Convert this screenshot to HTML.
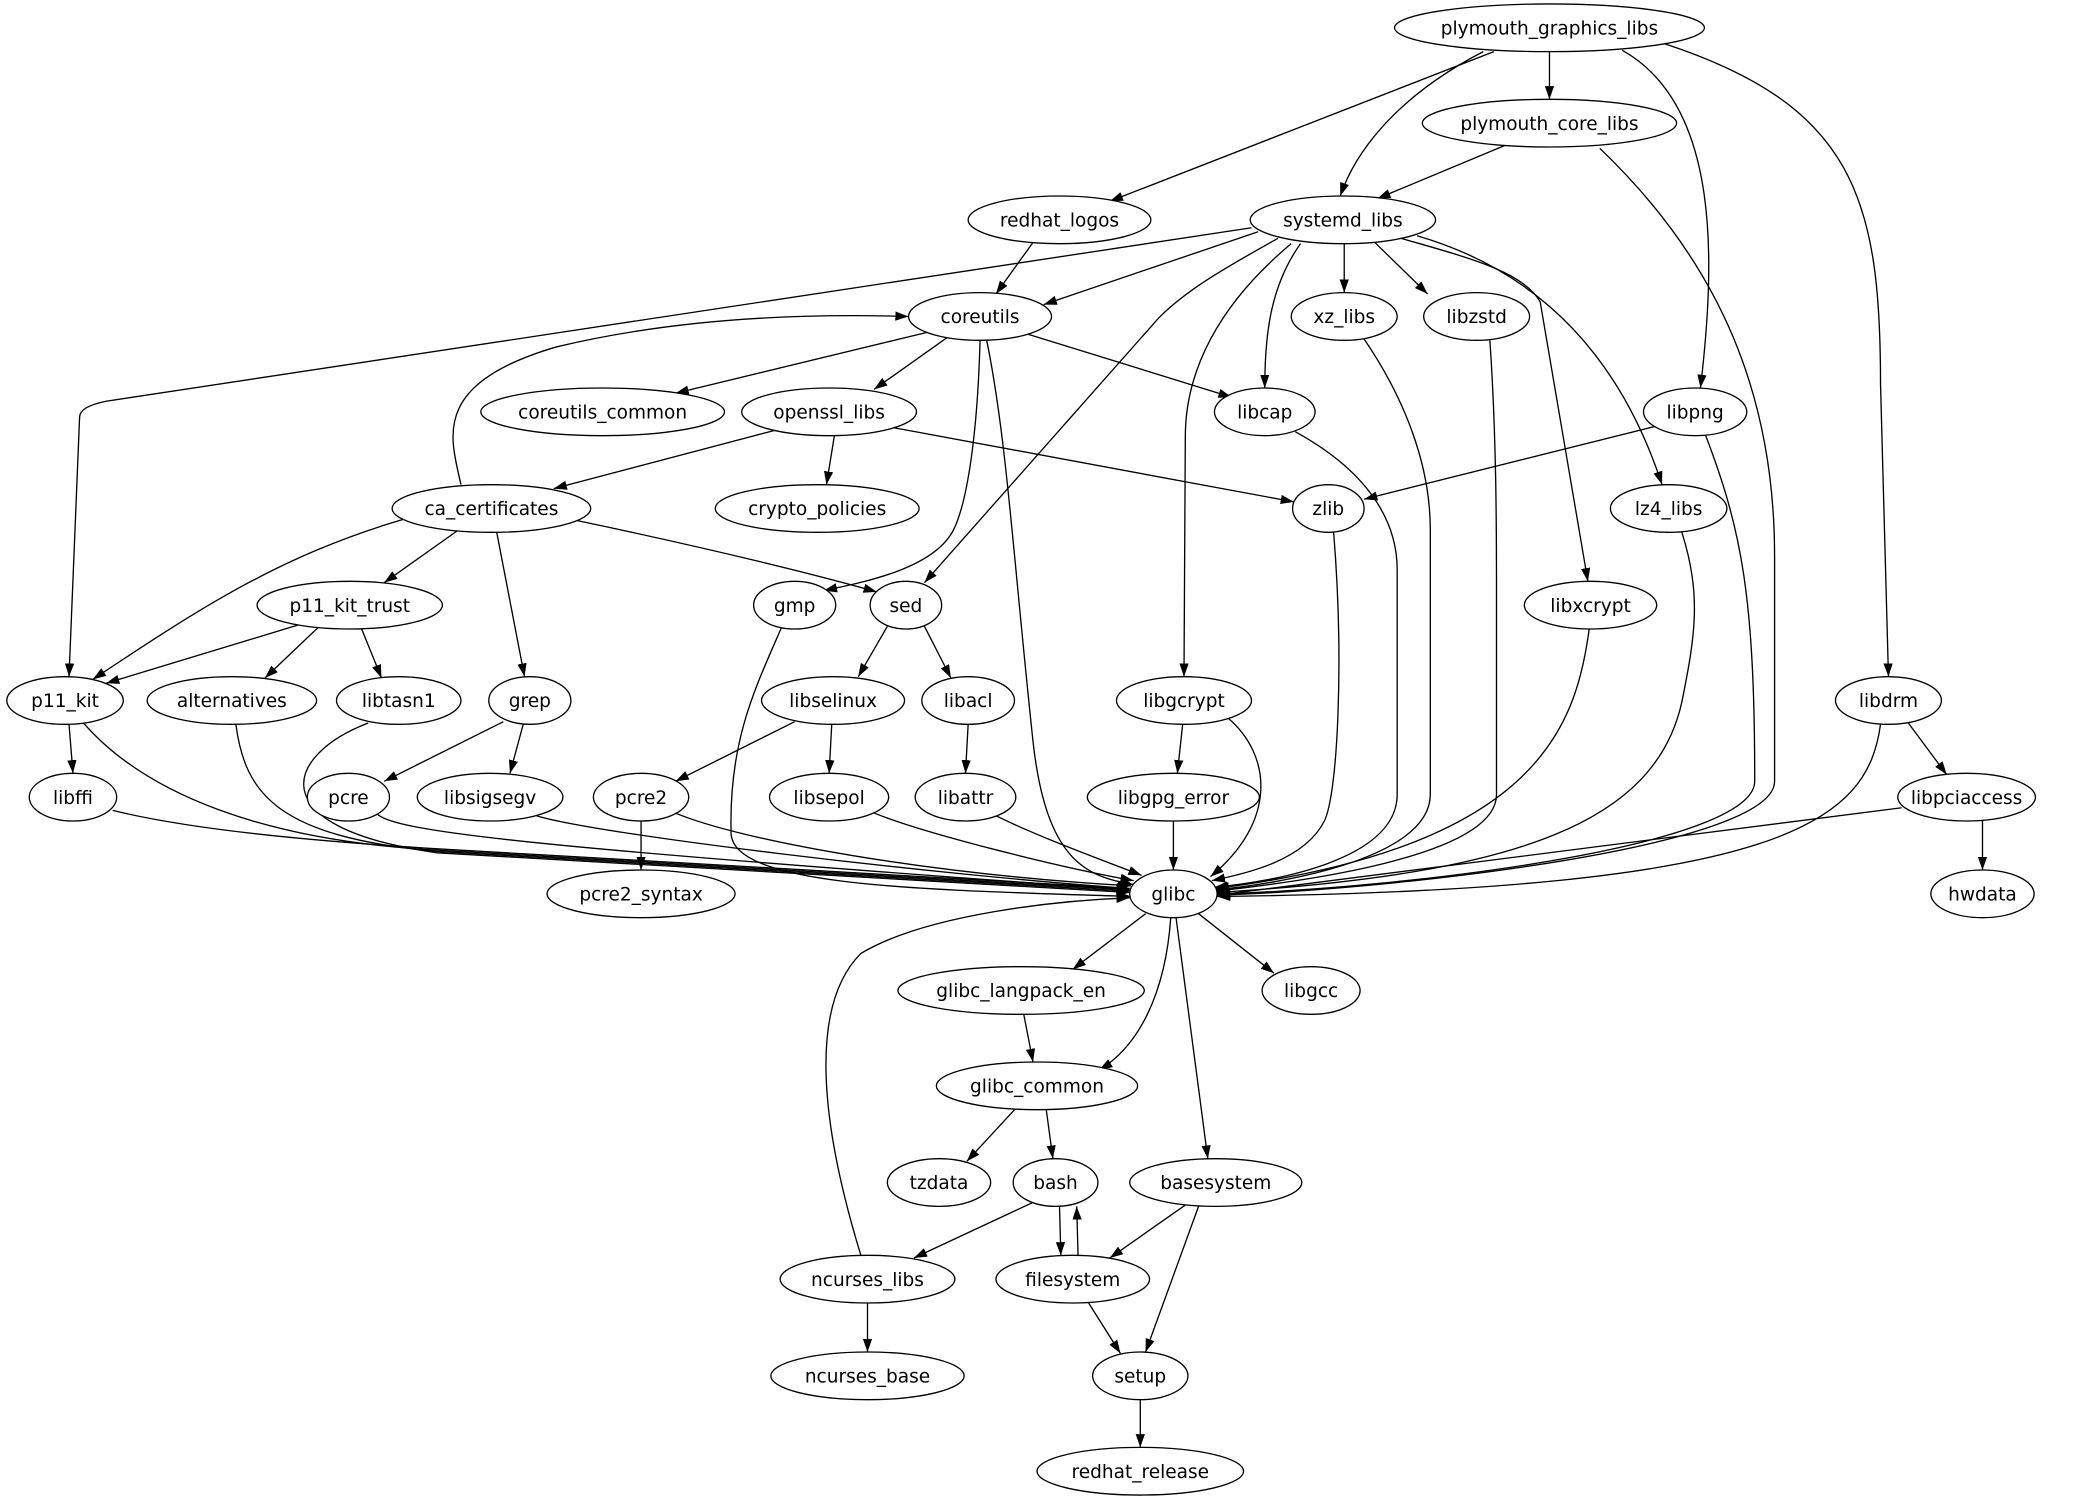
<!DOCTYPE html>
<html><head><meta charset="utf-8"><style>html,body{margin:0;padding:0;background:#fff}svg{display:block}</style></head><body>
<svg width="2074" height="1499" viewBox="0 0 1566 1132" xmlns="http://www.w3.org/2000/svg">
<defs><marker id="a" markerUnits="userSpaceOnUse" markerWidth="10" markerHeight="8" refX="10" refY="3.5" orient="auto"><path d="M0,0 L10,3.5 L0,7 Z" fill="#000"/></marker></defs>
<rect width="1566" height="1132" fill="#fff"/>
<g fill="none" stroke="#000" stroke-width="1" marker-end="url(#a)">
<path d="M1128,39 L838,152"/>
<path d="M1120,39 C1060,70 1025,110 1012,148"/>
<path d="M1170,39 L1170,75"/>
<path d="M1225,38 C1300,80 1295,200 1284,293"/>
<path d="M1257,33 C1400,80 1420,150 1420,290 L1426,511"/>
<path d="M1136,110 L1040,150"/>
<path d="M1208,112 C1300,200 1340,300 1340,420 L1340,590 C1340,640 1050,672 919,676"/>
<path d="M780,183 L752,222"/>
<path d="M950,175 L788,230"/>
<path d="M945,172 L80,303 Q60,307 60,315 L52,511"/>
<path d="M965,180 C920,205 895,220 875,240 L698,440"/>
<path d="M975,184 C920,230 895,280 895,330 L894,511"/>
<path d="M982,184 C960,215 955,250 955,293"/>
<path d="M1015,184 L1015,221"/>
<path d="M1038,183 L1078,222"/>
<path d="M1058,180 C1110,195 1150,205 1163,228 L1199,439"/>
<path d="M1070,178 C1180,210 1230,290 1255,366"/>
<path d="M700,251 L510,297"/>
<path d="M715,255 L660,294"/>
<path d="M775,252 L930,300"/>
<path d="M740,257 C738,330 730,380 720,400 C705,430 650,440 622,446"/>
<path d="M745,257 C760,330 765,420 780,560 C790,650 820,662 856,668"/>
<path d="M348,366 C340,330 325,290 420,262 C520,238 620,237 686,239"/>
<path d="M585,325 L418,369"/>
<path d="M630,329 L624,366"/>
<path d="M675,323 L977,379"/>
<path d="M1250,322 L1030,377"/>
<path d="M305,392 C210,420 150,460 70,513"/>
<path d="M345,401 L290,440"/>
<path d="M375,402 L396,511"/>
<path d="M435,393 C540,415 620,435 662,447"/>
<path d="M225,472 L80,516"/>
<path d="M240,474 L200,512"/>
<path d="M273,475 L288,512"/>
<path d="M670,473 L648,511"/>
<path d="M698,473 L718,512"/>
<path d="M380,545 L290,590"/>
<path d="M395,547 L385,584"/>
<path d="M600,545 L510,590"/>
<path d="M628,547 L626,584"/>
<path d="M731,547 L729,584"/>
<path d="M893,547 L889,584"/>
<path d="M1441,546 L1470,585"/>
<path d="M1497,620 L1497,657"/>
<path d="M484,620 L484,657"/>
<path d="M886,620 L886,657"/>
<path d="M52,547 L55,584"/>
<path d="M63,546 C110,600 200,635 330,642 L853,672"/>
<path d="M178,547 C185,600 210,632 330,643 L853,673"/>
<path d="M278,546 C215,570 195,625 330,644 L853,674"/>
<path d="M85,612 C150,628 250,636 330,641 L853,671"/>
<path d="M285,615 C300,628 400,640 853,672"/>
<path d="M405,616 C450,630 700,660 853,671"/>
<path d="M510,614 C560,635 700,660 854,669"/>
<path d="M660,614 C700,630 800,655 856,665"/>
<path d="M752,616 C780,630 820,645 862,661"/>
<path d="M590,474 C570,520 550,560 552,630 C555,670 700,672 854,677"/>
<path d="M927,542 C960,570 965,620 914,662"/>
<path d="M978,326 C1040,360 1055,400 1055,430 L1055,600 C1055,650 960,666 917,670"/>
<path d="M1030,256 C1060,300 1080,350 1080,400 L1080,600 C1080,650 960,668 918,672"/>
<path d="M1125,257 C1130,330 1130,400 1130,450 L1130,600 C1130,650 960,668 918,673"/>
<path d="M1007,402 C1015,500 1010,600 1000,620 C985,650 940,660 915,665"/>
<path d="M1270,402 C1285,450 1280,480 1270,530 C1250,620 1150,660 918,674"/>
<path d="M1200,475 C1190,550 1160,640 918,671"/>
<path d="M1288,329 C1315,400 1325,450 1325,590 C1325,640 1050,672 918,675"/>
<path d="M1420,547 C1410,620 1350,672 919,677"/>
<path d="M1436,610 L919,676"/>
<path d="M865,690 L810,732"/>
<path d="M905,690 L962,735"/>
<path d="M884,693 C880,750 860,790 830,808"/>
<path d="M888,693 L912,875"/>
<path d="M650,948 C620,850 610,760 650,720 C700,690 800,680 853,678"/>
<path d="M773,766 L780,802"/>
<path d="M767,837 L730,877"/>
<path d="M790,838 L795,875"/>
<path d="M780,908 L690,950"/>
<path d="M800,911 L801,948"/>
<path d="M814,948 L813,911"/>
<path d="M895,910 L838,950"/>
<path d="M905,911 L865,1021"/>
<path d="M822,984 L846,1022"/>
<path d="M655,984 L655,1021"/>
<path d="M861,1057 L861,1093"/>
</g>
<g fill="#fff" stroke="#000" stroke-width="1">
<ellipse cx="1170" cy="21" rx="117" ry="18"/><ellipse cx="1170" cy="93" rx="96" ry="18"/>
<ellipse cx="800" cy="166" rx="69" ry="18"/><ellipse cx="1014" cy="166" rx="70" ry="18"/>
<ellipse cx="740" cy="239" rx="54" ry="18"/><ellipse cx="1015" cy="239" rx="40" ry="18"/>
<ellipse cx="1115" cy="239" rx="40" ry="18"/><ellipse cx="455" cy="311" rx="92" ry="18"/>
<ellipse cx="626" cy="311" rx="66" ry="18"/><ellipse cx="955" cy="311" rx="38" ry="18"/>
<ellipse cx="1280" cy="311" rx="39" ry="18"/><ellipse cx="371" cy="384" rx="75" ry="18"/>
<ellipse cx="617" cy="384" rx="77" ry="18"/><ellipse cx="1003" cy="384" rx="27" ry="18"/>
<ellipse cx="1260" cy="384" rx="44" ry="18"/><ellipse cx="264" cy="457" rx="70" ry="18"/>
<ellipse cx="600" cy="457" rx="31" ry="18"/><ellipse cx="684" cy="457" rx="27" ry="18"/>
<ellipse cx="1201" cy="457" rx="50" ry="18"/><ellipse cx="49" cy="529" rx="44" ry="18"/>
<ellipse cx="175" cy="529" rx="64" ry="18"/><ellipse cx="301" cy="529" rx="47" ry="18"/>
<ellipse cx="400" cy="529" rx="31" ry="18"/><ellipse cx="629" cy="529" rx="54" ry="18"/>
<ellipse cx="731" cy="529" rx="35" ry="18"/><ellipse cx="894" cy="529" rx="51" ry="18"/>
<ellipse cx="1426" cy="529" rx="40" ry="18"/><ellipse cx="55" cy="602" rx="33" ry="18"/>
<ellipse cx="263" cy="602" rx="31" ry="18"/><ellipse cx="370" cy="602" rx="55" ry="18"/>
<ellipse cx="484" cy="602" rx="36" ry="18"/><ellipse cx="626" cy="602" rx="45" ry="18"/>
<ellipse cx="729" cy="602" rx="38" ry="18"/><ellipse cx="886" cy="602" rx="65" ry="18"/>
<ellipse cx="1485" cy="602" rx="52" ry="18"/><ellipse cx="886" cy="675" rx="33" ry="18"/>
<ellipse cx="484" cy="675" rx="71" ry="18"/><ellipse cx="1497" cy="675" rx="39" ry="18"/>
<ellipse cx="771" cy="748" rx="93" ry="18"/><ellipse cx="990" cy="748" rx="37" ry="18"/>
<ellipse cx="783" cy="820" rx="76" ry="18"/><ellipse cx="709" cy="893" rx="39" ry="18"/>
<ellipse cx="797" cy="893" rx="32" ry="18"/><ellipse cx="918" cy="893" rx="65" ry="18"/>
<ellipse cx="655" cy="966" rx="66" ry="18"/><ellipse cx="810" cy="966" rx="58" ry="18"/>
<ellipse cx="655" cy="1039" rx="73" ry="18"/><ellipse cx="861" cy="1039" rx="36" ry="18"/>
<ellipse cx="861" cy="1111" rx="78" ry="18"/>
</g>
<g font-family="'DejaVu Sans','Liberation Sans',sans-serif" font-size="14" text-anchor="middle" fill="#000">
<text x="1170" y="26">plymouth_graphics_libs</text><text x="1170" y="98">plymouth_core_libs</text>
<text x="800" y="171">redhat_logos</text><text x="1014" y="171">systemd_libs</text>
<text x="740" y="244">coreutils</text><text x="1015" y="244">xz_libs</text>
<text x="1115" y="244">libzstd</text><text x="455" y="316">coreutils_common</text>
<text x="626" y="316">openssl_libs</text><text x="955" y="316">libcap</text>
<text x="1280" y="316">libpng</text><text x="371" y="389">ca_certificates</text>
<text x="617" y="389">crypto_policies</text><text x="1003" y="389">zlib</text>
<text x="1260" y="389">lz4_libs</text><text x="264" y="462">p11_kit_trust</text>
<text x="600" y="462">gmp</text><text x="684" y="462">sed</text>
<text x="1201" y="462">libxcrypt</text><text x="49" y="534">p11_kit</text>
<text x="175" y="534">alternatives</text><text x="301" y="534">libtasn1</text>
<text x="400" y="534">grep</text><text x="629" y="534">libselinux</text>
<text x="731" y="534">libacl</text><text x="894" y="534">libgcrypt</text>
<text x="1426" y="534">libdrm</text><text x="55" y="607">libffi</text>
<text x="263" y="607">pcre</text><text x="370" y="607">libsigsegv</text>
<text x="484" y="607">pcre2</text><text x="626" y="607">libsepol</text>
<text x="729" y="607">libattr</text><text x="886" y="607">libgpg_error</text>
<text x="1485" y="607">libpciaccess</text><text x="886" y="680">glibc</text>
<text x="484" y="680">pcre2_syntax</text><text x="1497" y="680">hwdata</text>
<text x="771" y="753">glibc_langpack_en</text><text x="990" y="753">libgcc</text>
<text x="783" y="825">glibc_common</text><text x="709" y="898">tzdata</text>
<text x="797" y="898">bash</text><text x="918" y="898">basesystem</text>
<text x="655" y="971">ncurses_libs</text><text x="810" y="971">filesystem</text>
<text x="655" y="1044">ncurses_base</text><text x="861" y="1044">setup</text>
<text x="861" y="1116">redhat_release</text>
</g>
</svg>
</body></html>
